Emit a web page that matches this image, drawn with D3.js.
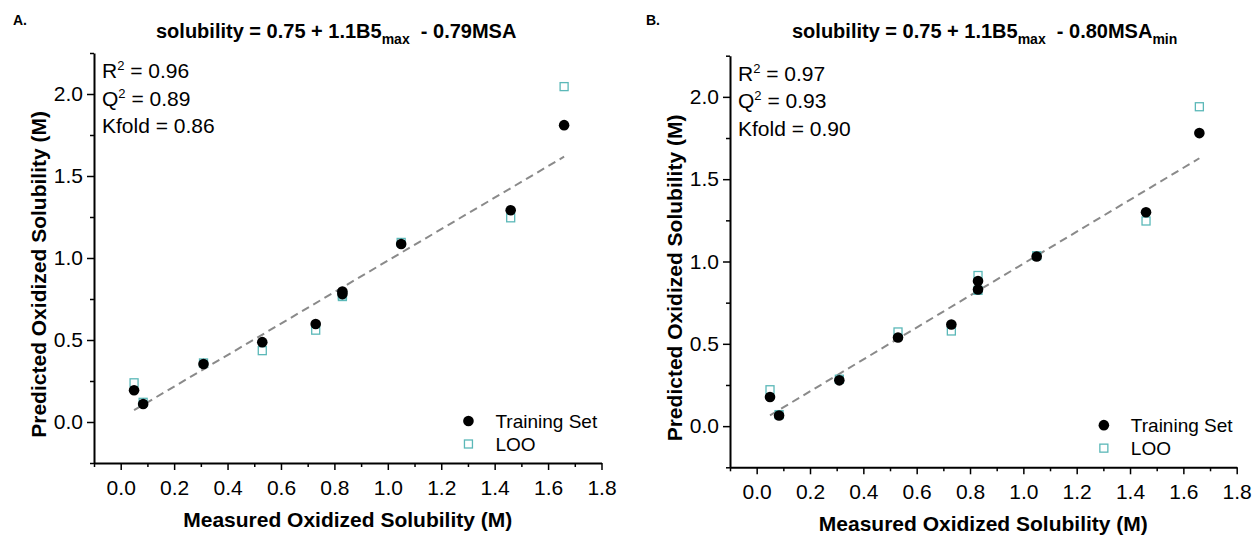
<!DOCTYPE html>
<html>
<head>
<meta charset="utf-8">
<script src="https://d3js.org/d3.v7.min.js"></script>
<style>
  body { margin: 0; background: #fff; }
  svg { font-family: "Liberation Sans", Arial, sans-serif; }
</style>
</head>
<body>
<svg id="chart" width="1254" height="536"></svg>
<script>
// measured solubility (x) shared by both models
const measured = [0.05, 0.084, 0.31, 0.53, 0.73, 0.83, 0.83, 1.05, 1.46, 1.66];

// panel A: B5max + MSA
const trainA = [0.194, 0.11, 0.354, 0.487, 0.598, 0.795, 0.78, 1.085, 1.291, 1.81];
const looA   = [0.239, 0.12, 0.36, 0.435, 0.56, 0.775, 0.765, 1.095, 1.245, 2.045];
const fitA   = [0.024, 0.96];
const statsA = ["0.96", "0.89", "0.86"];

// panel B: B5max + MSAmin
const trainB = [0.177, 0.065, 0.278, 0.538, 0.617, 0.882, 0.83, 1.03, 1.299, 1.78];
const looB   = [0.221, 0.07, 0.285, 0.572, 0.578, 0.915, 0.825, 1.035, 1.246, 1.94];
const fitB   = [0.017, 0.97];
const statsB = ["0.97", "0.93", "0.90"];

const xTicks = [0.0, 0.2, 0.4, 0.6, 0.8, 1.0, 1.2, 1.4, 1.6, 1.8];
const yTicks = [0.0, 0.5, 1.0, 1.5, 2.0];

const svg = d3.select("#chart");

function panel(opt) {
  const x = d3.scaleLinear().domain([-0.1, 1.8]).range([opt.left, opt.right]);
  const y = d3.scaleLinear().domain([-0.25, 2.25]).range([opt.bottom, opt.top]);
  const g = svg.append("g");

  // minor ticks
  const xMinor = d3.range(-0.1, 1.81, 0.1).filter(v => Math.abs(Math.round(v * 10) % 2) === 1);
  const yMinor = d3.range(-0.25, 2.26, 0.5);
  g.append("g").attr("transform", "translate(0," + opt.bottom + ")")
    .call(d3.axisBottom(x).tickValues(xMinor).tickSize(4).tickFormat(""))
    .call(a => a.select(".domain").remove());
  g.append("g").attr("transform", "translate(" + opt.left + ",0)")
    .call(d3.axisLeft(y).tickValues(yMinor).tickSize(4).tickFormat(""))
    .call(a => a.select(".domain").remove());

  // major axes
  const xa = g.append("g").attr("transform", "translate(0," + opt.bottom + ")")
    .call(d3.axisBottom(x).tickValues(xTicks).tickSize(7).tickSizeOuter(0).tickPadding(6).tickFormat(d3.format(".1f")));
  const ya = g.append("g").attr("transform", "translate(" + opt.left + ",0)")
    .call(d3.axisLeft(y).tickValues(yTicks).tickSize(7).tickSizeOuter(0).tickPadding(4).tickFormat(d3.format(".1f")));
  g.selectAll(".domain").attr("stroke-width", 2);
  g.selectAll(".tick line").attr("stroke-width", 1.5);
  [xa, ya].forEach(a => a.selectAll("text").attr("font-size", 21).attr("fill", "#000")
    .attr("font-family", "Liberation Sans, Arial, sans-serif"));
  xa.selectAll("text").attr("dy", "0.9em");

  // fit line
  const x0 = measured[0], x1 = measured[measured.length - 1];
  g.append("line")
    .attr("x1", x(x0)).attr("y1", y(opt.fit[0] + opt.fit[1] * x0))
    .attr("x2", x(x1)).attr("y2", y(opt.fit[0] + opt.fit[1] * x1))
    .attr("stroke", "#8a8a8a").attr("stroke-width", 2).attr("stroke-dasharray", "8,5");

  // LOO squares
  g.selectAll(".loo").data(opt.loo).enter().append("rect")
    .attr("x", (d, i) => x(measured[i]) - 4).attr("y", d => y(d) - 4)
    .attr("width", 8).attr("height", 8)
    .attr("fill", "none").attr("stroke", "#5bb8b8").attr("stroke-width", 1.3);

  // training circles
  g.selectAll(".train").data(opt.train).enter().append("circle")
    .attr("cx", (d, i) => x(measured[i])).attr("cy", d => y(d)).attr("r", 5.3)
    .attr("fill", "#000");

  // stats text
  const labels = [["R", "2", " = " + opt.stats[0]], ["Q", "2", " = " + opt.stats[1]], ["Kfold = " + opt.stats[2]]];
  labels.forEach((l, i) => {
    const t = g.append("text").attr("x", opt.left + 8).attr("y", opt.top + 25 + i * 27.5)
      .attr("font-size", 21);
    t.append("tspan").text(l[0]);
    if (l.length > 1) {
      t.append("tspan").text(l[1]).attr("font-size", 13).attr("dy", -8);
      t.append("tspan").text(l[2]).attr("dy", 8);
    }
  });

  // legend
  const lx = x(1.3) + 0.5, ly = y(0.0) - 1;
  g.append("circle").attr("cx", lx).attr("cy", ly).attr("r", 5.3).attr("fill", "#000");
  g.append("text").attr("x", lx + 27).attr("y", ly + 7).attr("font-size", 19).text("Training Set");
  g.append("rect").attr("x", lx - 4).attr("y", ly + 23 - 4).attr("width", 8).attr("height", 8)
    .attr("fill", "none").attr("stroke", "#5bb8b8").attr("stroke-width", 1.3);
  g.append("text").attr("x", lx + 27).attr("y", ly + 30).attr("font-size", 19).text("LOO");

  // axis titles
  g.append("text").attr("x", (opt.left + opt.right) / 2).attr("y", opt.bottom + 64)
    .attr("text-anchor", "middle").attr("font-size", 21).attr("font-weight", "bold")
    .text("Measured Oxidized Solubility (M)");
  g.append("text")
    .attr("transform", "translate(" + (opt.left - 55) + "," + y(0.9) + ") rotate(-90)")
    .attr("text-anchor", "middle").attr("dy", "0.35em").attr("font-size", 21).attr("font-weight", "bold")
    .text("Predicted Oxidized Solubility (M)");

  // panel letter
  g.append("text").attr("x", opt.letterX).attr("y", 25).attr("font-size", 14).attr("font-weight", "bold")
    .text(opt.letter);

  // title with subscripts
  const tt = g.append("text").attr("x", opt.titleX).attr("y", 38).attr("font-size", 20).attr("font-weight", "bold");
  opt.title.forEach(p => {
    const s = tt.append("tspan").text(p[0]);
    if (p[1] === "sub") s.attr("font-size", 14).attr("dy", 6);
    if (p[1] === "up") s.attr("dy", -6);
  });
}

panel({
  left: 94, right: 601.5, top: 53, bottom: 463,
  train: trainA, loo: looA, fit: fitA, stats: statsA,
  letter: "A.", letterX: 13, titleX: 156,
  title: [["solubility = 0.75 + 1.1B5"], ["max", "sub"], ["\u00a0\u00a0- 0.79MSA", "up"]]
});
panel({
  left: 730, right: 1236.7, top: 55.7, bottom: 467.3,
  train: trainB, loo: looB, fit: fitB, stats: statsB,
  letter: "B.", letterX: 646, titleX: 792,
  title: [["solubility = 0.75 + 1.1B5"], ["max", "sub"], ["\u00a0\u00a0- 0.80MSA", "up"], ["min", "sub"]]
});
</script>
</body>
</html>
